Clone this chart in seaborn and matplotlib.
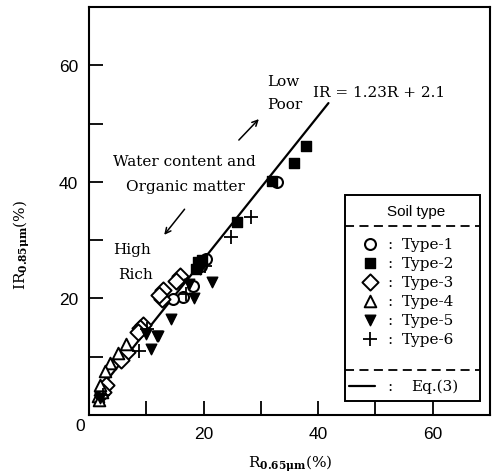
import numpy as np
import pandas as pd
import matplotlib
matplotlib.use("Agg")
import matplotlib.pyplot as plt
import seaborn as sns
from matplotlib.patches import Rectangle

# ---- data ----
type1_r = [32.8, 20.4, 19.6, 16.4, 14.7, 18.2]
type1_ir = [40.0, 26.8, 25.6, 20.3, 19.9, 22.2]
type2_r = [37.8, 35.8, 31.9, 25.8, 19.0, 18.6, 19.8]
type2_ir = [46.1, 43.3, 40.1, 33.1, 26.2, 25.0, 26.6]
type3_r = [15.8, 15.2, 13.0, 12.8, 12.2, 9.5, 8.9, 8.5, 6.6, 5.5, 3.0, 2.4]
type3_ir = [23.8, 23.0, 21.5, 19.9, 20.6, 15.4, 14.9, 14.2, 10.8, 9.4, 5.2, 4.0]
type4_r = [6.4, 5.0, 3.6, 2.8, 1.6, 2.3, 1.8, 2.0]
type4_ir = [12.2, 10.6, 9.0, 7.5, 3.3, 3.9, 2.5, 5.2]
type5_r = [21.5, 18.4, 14.4, 12.0, 10.0, 10.9, 11.8, 19.4, 17.4, 2.0]
type5_ir = [22.8, 20.1, 16.5, 13.6, 13.9, 11.3, 13.5, 25.0, 22.4, 3.0]
type6_r = [28.2, 24.8, 17.0, 8.8, 10.2, 2.5, 20.2]
type6_ir = [34.0, 30.5, 20.8, 11.0, 14.8, 3.5, 25.6]
types = ["Type-1", "Type-2", "Type-3", "Type-4", "Type-5", "Type-6"]
eq_slope, eq_icpt = 1.23, 2.1
eq_r = [1.0, 41.8]
x_ticks = [20, 40, 60]
y_ticks = [20, 40, 60]

rs = [type1_r, type2_r, type3_r, type4_r, type5_r, type6_r]
irs = [type1_ir, type2_ir, type3_ir, type4_ir, type5_ir, type6_ir]
df = pd.concat([pd.DataFrame({"R": r, "IR": i, "type": t}) for r, i, t in zip(rs, irs, types)],
               ignore_index=True)
eq_df = pd.DataFrame({"R": eq_r, "IR": [eq_slope * v + eq_icpt for v in eq_r]})

sns.set_style("ticks")
serif = ["DejaVu Serif"]
sansf = ["Liberation Sans", "DejaVu Sans"]
plt.rcParams["font.family"] = serif
plt.rcParams["mathtext.fontset"] = "dejavuserif"
for k in ("text.color", "axes.labelcolor", "xtick.color", "ytick.color", "axes.edgecolor"):
    plt.rcParams[k] = "black"

fig = plt.figure(figsize=(4.92, 4.77), dpi=100)
ax = fig.add_axes([89 / 492, 1 - 416 / 477, (490 - 89) / 492, (416 - 8) / 477])

styles = {
    "Type-1": dict(marker="o", s=62, facecolor="white", edgecolor="black", linewidth=1.5),
    "Type-2": dict(marker="s", s=60, facecolor="black", edgecolor="black", linewidth=1.0),
    "Type-3": dict(marker="D", s=68, facecolor="white", edgecolor="black", linewidth=1.4),
    "Type-4": dict(marker="^", s=70, facecolor="white", edgecolor="black", linewidth=1.4),
    "Type-5": dict(marker="v", s=58, facecolor="black", edgecolor="black", linewidth=1.0),
    "Type-6": dict(marker="+", s=95, color="black", linewidth=1.3),
}

sns.lineplot(data=eq_df, x="R", y="IR", ax=ax, color="black", linewidth=1.6, zorder=3)
for t in types:
    sns.scatterplot(data=df[df["type"] == t], x="R", y="IR", ax=ax, zorder=4, **styles[t])

ax.set_xlim(0, 70)
ax.set_ylim(0, 70)
ax.set_xticks(x_ticks)
ax.set_yticks(y_ticks)
ax.set_xticks([10, 30, 50], minor=True)
ax.set_yticks([10, 30, 50], minor=True)
ax.tick_params(which="both", direction="in", length=10, width=1.3, labelsize=12.5, pad=8,
               colors="black")
for lab in ax.get_xticklabels() + ax.get_yticklabels():
    lab.set_family(sansf)
for sp in ax.spines.values():
    sp.set_linewidth(1.5)
    sp.set_color("black")
    sp.set_visible(True)
ax.set_xlabel("")
ax.set_ylabel("")
fig.text(80 / 492, 1 - 427 / 477, "0", ha="center", va="center", fontsize=12.5, family=sansf)

fig.text(290 / 492, 1 - 464 / 477, r"$\mathrm{R}_{\mathbf{0.65\mu m}}$(%)", ha="center", va="center", fontsize=11)
fig.text(22 / 492, 1 - 245 / 477, r"$\mathrm{IR}_{\mathbf{0.85\mu m}}$(%)", ha="center", va="center",
         fontsize=11, rotation=90)

def px(x, y):
    return ((x - 89) / 5.77, (416 - y) / 5.83)

# annotations
ax.text(*px(285, 82), "Low", ha="center", va="center", fontsize=11)
ax.text(*px(286, 105), "Poor", ha="center", va="center", fontsize=11)
ax.text(*px(381, 93), "IR = 1.23R + 2.1", ha="center", va="center", fontsize=11)
ax.text(*px(185, 162), "Water content and", ha="center", va="center", fontsize=11)
ax.text(*px(186, 187), "Organic matter", ha="center", va="center", fontsize=11)
ax.text(*px(132, 250), "High", ha="center", va="center", fontsize=11)
ax.text(*px(136, 275), "Rich", ha="center", va="center", fontsize=11)
ax.annotate("", xy=px(262, 118), xytext=px(238, 143),
            arrowprops=dict(arrowstyle="->", color="black", lw=1.1))
ax.annotate("", xy=px(163, 238), xytext=px(187, 208),
            arrowprops=dict(arrowstyle="->", color="black", lw=1.1))

# custom legend box
lx0, lx1, ly0, ly1 = 347, 483, 196, 402
(x0, y1), (x1, y0) = px(lx0, ly0), px(lx1, ly1)
ax.add_patch(Rectangle((x0, y0), x1 - x0, y1 - y0, facecolor="white", edgecolor="black",
                       linewidth=1.4, zorder=5))
ax.text(*px(418, 212), "Soil type", ha="center", va="center", fontsize=11, family=sansf, zorder=6)
for yy in (227, 371):
    ax.plot(*zip(px(lx0, yy), px(lx1, yy)), color="black", lw=1.3, ls=(0, (5, 3)), zorder=6)
row_y = [245, 264, 283, 302, 321, 340]
for t, yy in zip(types, row_y):
    st = dict(styles[t])
    ax.scatter(*px(372, yy), zorder=6, **st)
    ax.text(*px(392, yy), ":", ha="center", va="center", fontsize=11, zorder=6)
    ax.text(*px(404, yy), t, ha="left", va="center", fontsize=11, zorder=6)
ax.plot(*zip(px(351, 387), px(377, 387)), color="black", lw=1.6, zorder=6)
ax.text(*px(392, 387), ":", ha="center", va="center", fontsize=11, zorder=6)
ax.text(*px(437, 387), "Eq.(3)", ha="center", va="center", fontsize=11, zorder=6)

fig.savefig("out.png", dpi=100)
